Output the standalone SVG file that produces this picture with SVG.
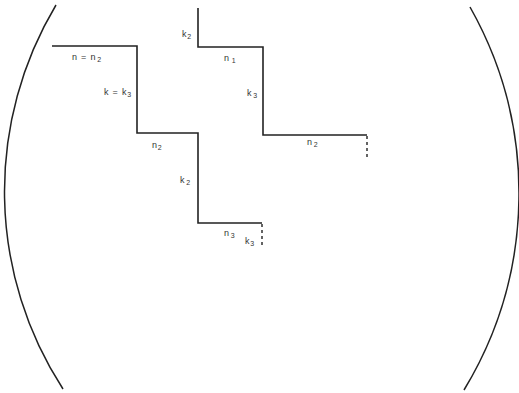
<svg xmlns="http://www.w3.org/2000/svg" width="519" height="393" viewBox="0 0 519 393">
<style>
.ln{fill:none;stroke:#222;stroke-width:1.6}
.dash{fill:none;stroke:#222;stroke-width:1.4;stroke-dasharray:3,3}
.arc{fill:none;stroke:#222;stroke-width:1.5}
.t{font-family:"Liberation Sans",Arial,sans-serif;font-size:9px;fill:#333;letter-spacing:0.8px}
.s{font-size:7px}
</style>
<rect width="519" height="393" fill="#fff"/>
<g id="arcs">
<path class="arc" d="M56,5 A363,363 0 0 0 63,389"/>
<path class="arc" d="M470,7 A379,379 0 0 1 464,390"/>
</g>
<g id="path1">
<polyline class="ln" points="52,46 137,46 137,133 198,133 198,223 262,223"/>
<line class="dash" x1="262" y1="224" x2="262" y2="248"/>
</g>
<g id="path2">
<polyline class="ln" points="198,8 198,47 263,47 263,135 367,135"/>
<line class="dash" x1="367" y1="136" x2="367" y2="160"/>
</g>
<g id="labels">
<text class="t" x="72" y="60">n = n<tspan class="s" dx="1" dy="2">2</tspan></text>
<text class="t" x="104" y="95">k = k<tspan class="s" dx="0" dy="2">3</tspan></text>
<text class="t" x="152" y="148">n<tspan class="s" dx="0" dy="2">2</tspan></text>
<text class="t" x="180" y="183">k<tspan class="s" dx="1" dy="2">2</tspan></text>
<text class="t" x="224" y="236">n<tspan class="s" dx="1" dy="2">3</tspan></text>
<text class="t" x="245" y="244">k<tspan class="s" dx="0" dy="2">3</tspan></text>
<text class="t" x="182" y="37">k<tspan class="s" dx="0" dy="2">2</tspan></text>
<text class="t" x="224" y="61">n<tspan class="s" dx="2" dy="2">1</tspan></text>
<text class="t" x="247" y="96">k<tspan class="s" dx="1" dy="2">3</tspan></text>
<text class="t" x="307" y="145">n<tspan class="s" dx="1" dy="2">2</tspan></text>
</g>
</svg>
